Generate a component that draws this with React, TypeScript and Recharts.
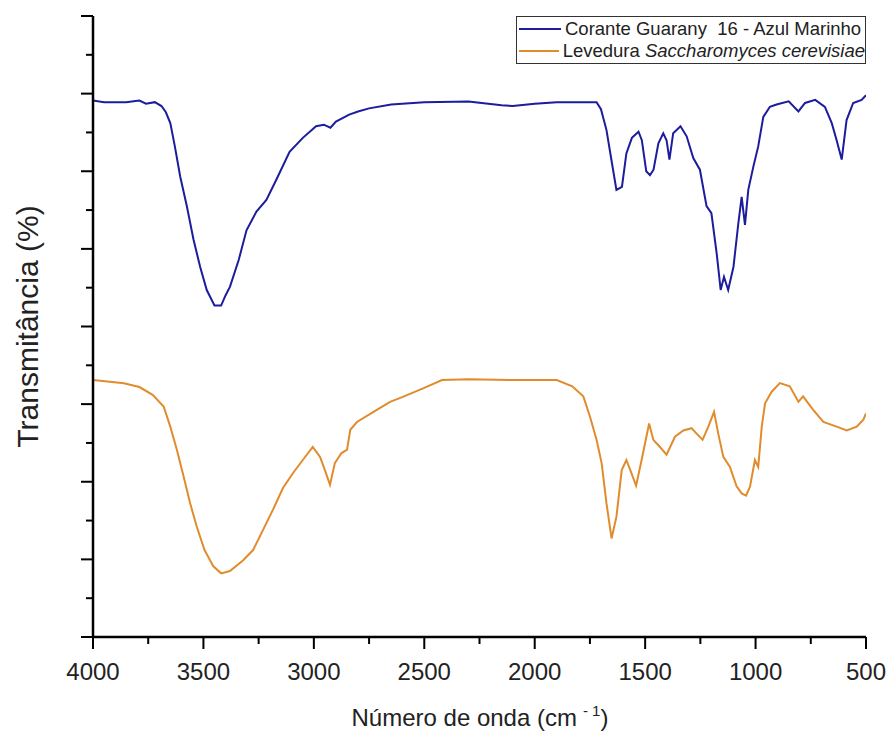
import React from 'react';
import { LineChart, Line, XAxis, YAxis } from 'recharts';

// FTIR spectra (wavenumber cm-1, transmittance in axis units)
const blueWn = [4000, 3950, 3850, 3790, 3760, 3720, 3690, 3670, 3650, 3630, 3605, 3575, 3545, 3515, 3485, 3450, 3420, 3400, 3380, 3340, 3305, 3260, 3215, 3170, 3110, 3050, 2990, 2955, 2925, 2900, 2840, 2800, 2750, 2650, 2500, 2300, 2150, 2100, 2000, 1900, 1720, 1700, 1675, 1650, 1630, 1605, 1585, 1560, 1530, 1515, 1495, 1478, 1462, 1440, 1418, 1403, 1390, 1373, 1340, 1312, 1282, 1252, 1222, 1200, 1176, 1158, 1143, 1124, 1100, 1078, 1063, 1048, 1033, 1010, 988, 965, 935, 905, 850, 806, 776, 730, 686, 655, 633, 610, 588, 558, 520, 500];
const blueT = [6.91, 6.89, 6.89, 6.91, 6.87, 6.89, 6.84, 6.76, 6.62, 6.33, 5.93, 5.55, 5.12, 4.77, 4.47, 4.27, 4.27, 4.40, 4.51, 4.86, 5.24, 5.48, 5.63, 5.89, 6.25, 6.43, 6.58, 6.60, 6.56, 6.64, 6.73, 6.77, 6.81, 6.86, 6.89, 6.90, 6.85, 6.84, 6.87, 6.89, 6.89, 6.80, 6.53, 6.10, 5.76, 5.80, 6.23, 6.43, 6.51, 6.40, 6.00, 5.95, 6.02, 6.36, 6.49, 6.40, 6.15, 6.49, 6.58, 6.45, 6.17, 6.02, 5.55, 5.46, 4.94, 4.47, 4.64, 4.47, 4.77, 5.33, 5.67, 5.31, 5.76, 6.06, 6.32, 6.70, 6.83, 6.86, 6.90, 6.77, 6.88, 6.92, 6.83, 6.62, 6.40, 6.15, 6.66, 6.88, 6.92, 6.98];

const orangeWn = [4000, 3860, 3790, 3730, 3680, 3650, 3620, 3590, 3560, 3530, 3495, 3455, 3420, 3380, 3320, 3275, 3230, 3185, 3140, 3095, 3050, 3005, 2972, 2950, 2927, 2905, 2875, 2850, 2835, 2805, 2730, 2655, 2600, 2500, 2420, 2300, 2100, 1900, 1830, 1780, 1750, 1720, 1697, 1675, 1652, 1630, 1606, 1585, 1562, 1541, 1516, 1482, 1463, 1440, 1403, 1365, 1327, 1290, 1267, 1240, 1214, 1188, 1169, 1146, 1116, 1086, 1063, 1043, 1025, 1003, 988, 972, 957, 927, 890, 845, 806, 785, 740, 693, 633, 587, 542, 512, 500];
const orangeT = [3.31, 3.27, 3.22, 3.12, 2.97, 2.71, 2.41, 2.07, 1.72, 1.42, 1.12, 0.91, 0.82, 0.85, 0.99, 1.12, 1.38, 1.64, 1.92, 2.11, 2.28, 2.45, 2.32, 2.15, 1.96, 2.24, 2.37, 2.41, 2.67, 2.77, 2.90, 3.03, 3.09, 3.21, 3.31, 3.32, 3.31, 3.31, 3.23, 3.10, 2.84, 2.54, 2.24, 1.72, 1.27, 1.55, 2.15, 2.28, 2.11, 1.95, 2.28, 2.75, 2.54, 2.47, 2.35, 2.58, 2.66, 2.69, 2.62, 2.54, 2.71, 2.90, 2.62, 2.32, 2.19, 1.94, 1.85, 1.82, 1.94, 2.28, 2.19, 2.71, 3.01, 3.16, 3.27, 3.23, 3.03, 3.10, 2.93, 2.77, 2.71, 2.66, 2.71, 2.80, 2.88];

const xTicks = [4000, 3750, 3500, 3250, 3000, 2750, 2500, 2250, 2000, 1750, 1500, 1250, 1000, 750, 500];
const yTicks = [0, 0.5, 1, 1.5, 2, 2.5, 3, 3.5, 4, 4.5, 5, 5.5, 6, 6.5, 7, 7.5, 8];

const blueName = 'Corante Guarany  16 - Azul Marinho';
const orangeName = 'Levedura';
const orangeSpecies = 'Saccharomyces cerevisiae';

const blueData = blueWn.map((wn, i) => ({ wn, t: blueT[i] }));
const orangeData = orangeWn.map((wn, i) => ({ wn, t: orangeT[i] }));

const BLUE = '#1c1c9c';
const ORANGE = '#e08c2c';
const FONT = '"Liberation Sans", Arial, sans-serif';

const XTick = (props: any) => {
  const { x, y, payload } = props;
  const major = payload.value % 500 === 0;
  return (
    <g>
      <line x1={x} x2={x} y1={y} y2={y + (major ? 12 : 7)} stroke="#000" strokeWidth={2} />
      {major && (
        <text x={x} y={y + 43} textAnchor="middle" fontFamily={FONT} fontSize={24} fill="#222">
          {payload.value}
        </text>
      )}
    </g>
  );
};

const YTick = (props: any) => {
  const { x, y, payload } = props;
  const major = payload.value % 1 === 0;
  return <line x1={x} x2={x - (major ? 12 : 7)} y1={y} y2={y} stroke="#000" strokeWidth={2} />;
};

export default function App() {
  return (
    <div style={{ position: 'absolute', left: 0, top: 0, width: 890, height: 733, background: '#fff' }}>
      <LineChart width={890} height={733} data={blueData} margin={{ top: 16, right: 24, left: 0, bottom: 0 }}>
        <XAxis
          dataKey="wn"
          type="number"
          domain={[500, 4000]}
          reversed
          ticks={xTicks}
          interval={0}
          tickLine={false}
          tickSize={0}
          tickMargin={0}
          tick={<XTick />}
          height={96}
          axisLine={{ stroke: '#000', strokeWidth: 2.5 }}
          allowDataOverflow
          label={{
            content: () => (
              <text x={480} y={726} textAnchor="middle" fontFamily={FONT} fontSize={24} fill="#222">
                Número de onda (cm
                <tspan dx={6} dy={-10} fontSize={15}>- 1</tspan>
                <tspan dy={10}>)</tspan>
              </text>
            ),
          }}
        />
        <XAxis xAxisId="top" orientation="top" type="number" dataKey="wn" domain={[500, 4000]} reversed height={0} tick={false} tickLine={false} axisLine={{ stroke: '#333', strokeWidth: 1 }} />
        <YAxis
          type="number"
          domain={[0, 8]}
          ticks={yTicks}
          interval={0}
          width={93}
          tickLine={false}
          tickSize={0}
          tickMargin={0}
          tick={<YTick />}
          axisLine={{ stroke: '#000', strokeWidth: 2.5 }}
          label={{
            content: (p: any) => {
              const cy = p.viewBox.y + p.viewBox.height / 2;
              return (
                <text x={38} y={cy} transform={`rotate(-90, 38, ${cy})`} textAnchor="middle" fontFamily={FONT} fontSize={30} fill="#222">
                  Transmitância (%)
                </text>
              );
            },
          }}
        />
        <YAxis yAxisId="right" orientation="right" type="number" domain={[0, 8]} width={0} tick={false} tickLine={false} axisLine={{ stroke: '#333', strokeWidth: 1 }} />
        <Line data={blueData} dataKey="t" type="linear" stroke={BLUE} strokeWidth={2} dot={false} isAnimationActive={false} />
        <Line data={orangeData} dataKey="t" type="linear" stroke={ORANGE} strokeWidth={2} dot={false} isAnimationActive={false} />
      </LineChart>
      <div
        style={{
          position: 'absolute',
          left: 516,
          top: 16,
          width: 350,
          height: 48,
          boxSizing: 'border-box',
          border: '1px solid #333',
          background: '#fff',
          fontFamily: FONT,
          fontSize: 18.5,
          color: '#222',
          lineHeight: '22px',
          paddingTop: 1,
        }}
      >
        <div style={{ display: 'flex', alignItems: 'center', whiteSpace: 'pre' }}>
          <span style={{ display: 'inline-block', width: 42, height: 2, background: BLUE, margin: '0 4px 0 2px' }} />
          {blueName}
        </div>
        <div style={{ display: 'flex', alignItems: 'center', whiteSpace: 'pre' }}>
          <span style={{ display: 'inline-block', width: 42, height: 2, background: ORANGE, margin: '0 4px 0 2px' }} />
          {orangeName} <i>{orangeSpecies}</i>
        </div>
      </div>
    </div>
  );
}
